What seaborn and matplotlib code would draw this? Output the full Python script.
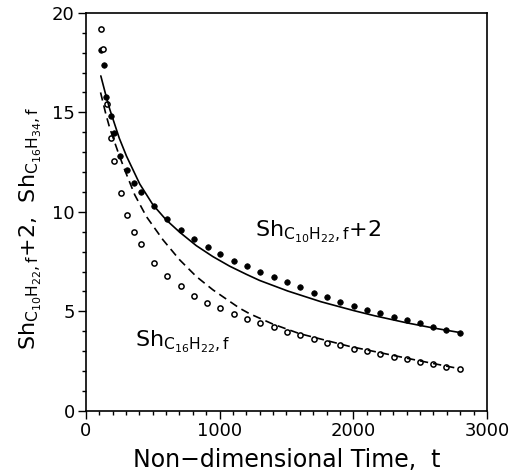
import pandas as pd
import numpy as np
import matplotlib
matplotlib.use("Agg")
import matplotlib.pyplot as plt
import seaborn as sns
from matplotlib.ticker import MultipleLocator

sns.set_style("ticks")
plt.rcParams['font.family'] = ['DejaVu Sans']
plt.rcParams['mathtext.fontset'] = 'dejavusans'
plt.rcParams['text.color'] = 'black'
plt.rcParams['xtick.color'] = 'black'
plt.rcParams['ytick.color'] = 'black'
plt.rcParams['axes.labelcolor'] = 'black'
plt.rcParams['axes.edgecolor'] = 'black'

# filled dots: Sh(C10H22) + 2, measured
t_c10 = [115, 134, 154, 185, 211, 259, 311, 360, 416, 510, 610, 710, 810, 910, 1007,
         1107, 1206, 1306, 1405, 1505, 1604, 1704, 1804, 1901, 2002, 2102, 2201, 2301,
         2400, 2497, 2597, 2696, 2796]
sh_c10 = [18.15, 17.4, 15.75, 14.8, 13.95, 12.83, 12.11, 11.47, 11.02, 10.27, 9.63, 9.10,
          8.63, 8.24, 7.89, 7.55, 7.27, 7.0, 6.72, 6.46, 6.21, 5.94, 5.74, 5.49, 5.29, 5.09,
          4.91, 4.72, 4.54, 4.39, 4.22, 4.07, 3.90]

# open circles: Sh(C16H34), measured
t_c16 = [112, 130, 155, 187, 211, 261, 311, 362, 412, 510, 609, 709, 808, 908, 1007,
         1107, 1206, 1306, 1405, 1505, 1604, 1704, 1804, 1901, 2002, 2102, 2201, 2301,
         2400, 2497, 2597, 2696, 2796]
sh_c16 = [19.2, 18.2, 15.4, 13.73, 12.56, 10.97, 9.85, 9.01, 8.40, 7.43, 6.78, 6.25, 5.79,
          5.44, 5.17, 4.87, 4.62, 4.43, 4.19, 3.98, 3.82, 3.63, 3.43, 3.32, 3.13, 2.98, 2.85,
          2.70, 2.58, 2.46, 2.34, 2.22, 2.12]

# model curves
t_solid = [112, 150, 179, 250, 304, 403, 502, 600, 701, 826, 950, 1075, 1200, 1300, 1510,
           1759, 2007, 2157, 2400, 2600, 2791]
sh_solid = [16.83, 15.85, 15.15, 13.7, 12.8, 11.4, 10.35, 9.6, 8.98, 8.3, 7.75, 7.27,
            6.86, 6.55, 6.02, 5.48, 5.03, 4.78, 4.42, 4.16, 3.94]

t_dash = [110, 150, 179, 241, 291, 366, 453, 577, 701, 826, 950, 1149, 1224, 1398, 1597,
          1970, 2468, 2791]
sh_dash = [16.0, 14.9, 14.2, 13.0, 12.1, 10.85, 9.76, 8.59, 7.59, 6.75, 6.08, 5.16, 4.88,
           4.36, 3.88, 3.24, 2.55, 2.12]

dots = pd.DataFrame({"t": t_c10, "sh": sh_c10})
circles = pd.DataFrame({"t": t_c16, "sh": sh_c16})
solid = pd.DataFrame({"t": t_solid, "sh": sh_solid})
dashed = pd.DataFrame({"t": t_dash, "sh": sh_dash})

fig = plt.figure(figsize=(5.11, 4.76), dpi=100)
ax = fig.add_axes([0.168, 0.137, 0.785, 0.836])

sns.lineplot(data=solid, x="t", y="sh", ax=ax, color="black", lw=1.2, sort=False)
sns.lineplot(data=dashed, x="t", y="sh", ax=ax, color="black", lw=1.2, sort=False,
             linestyle=(0, (5, 3)))
sns.scatterplot(data=dots, x="t", y="sh", ax=ax, color="black", s=16, marker="o",
                edgecolor="black", linewidth=0.5)
sns.scatterplot(data=circles, x="t", y="sh", ax=ax, facecolor="white", s=14, marker="o",
                edgecolor="black", linewidth=1.1)

ax.set_xlim(0, 3000)
ax.set_ylim(0, 20)
ax.xaxis.set_major_locator(MultipleLocator(1000))
ax.xaxis.set_minor_locator(MultipleLocator(100))
ax.yaxis.set_major_locator(MultipleLocator(5))
ax.yaxis.set_minor_locator(MultipleLocator(1))
ax.tick_params(which="major", direction="out", length=6, width=1, labelsize=13, pad=2)
ax.tick_params(which="minor", direction="out", length=3, width=1)
for sp in ax.spines.values():
    sp.set_linewidth(1.2)
    sp.set_visible(True)

ax.set_xlabel("Non\u2212dimensional Time,  t", fontsize=17, labelpad=6)
ax.set_ylabel(r"$\mathregular{Sh_{C_{10}H_{22},f}}$+2,  $\mathregular{Sh_{C_{16}H_{34},f}}$",
              fontsize=16)
ax.yaxis.set_label_coords(-0.105, 0.46)

ax.text(1265, 9.0, r"$\mathregular{Sh_{C_{10}H_{22},f}}$+2", fontsize=16, va="center")
ax.text(370, 3.45, r"$\mathregular{Sh_{C_{16}H_{22},f}}$", fontsize=16, va="center")

fig.savefig("out.png", dpi=100)
